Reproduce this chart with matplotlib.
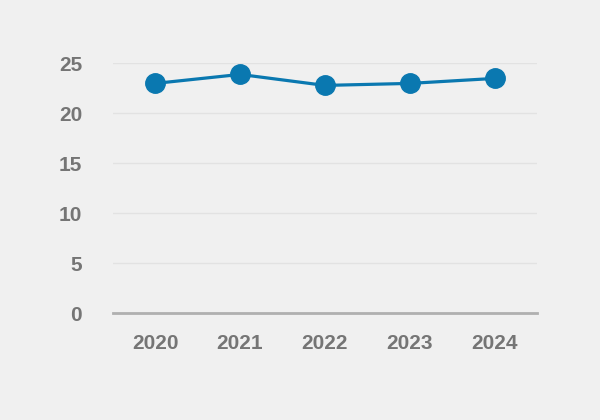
import matplotlib.pyplot as plt

plt.rcParams['font.family'] = ['Liberation Sans', 'DejaVu Sans']

# Data
years = ["2020", "2021", "2022", "2023", "2024"]
values = [23.0, 23.9, 22.8, 23.0, 23.5]
y_ticks = [0, 5, 10, 15, 20, 25]

bg = "#f0f0f0"
line_color = "#0a78b0"
text_color = "#757575"

fig = plt.figure(figsize=(6, 4.2), dpi=100, facecolor=bg)
ax = fig.add_axes([0.188, 0.254, 0.707, 0.595], facecolor=bg)

x = range(len(years))
ax.plot(x, values, color=line_color, linewidth=2.3, marker="o",
        markersize=14, clip_on=False, zorder=3)

ax.set_xlim(-0.5, len(years) - 0.5)
ax.set_ylim(0, 25)
ax.set_xticks(list(x))
ax.set_xticklabels(years)
ax.set_yticks(y_ticks)

ax.grid(axis="y", color="#e2e2e2", linewidth=1)
ax.set_axisbelow(True)
for side in ["top", "right", "left"]:
    ax.spines[side].set_visible(False)
ax.spines["bottom"].set_color("#b0b0b0")
ax.spines["bottom"].set_linewidth(2)
ax.spines["bottom"].set_zorder(2)

ax.tick_params(axis="both", length=0, labelsize=15, labelcolor=text_color)
ax.tick_params(axis="y", pad=22)
ax.tick_params(axis="x", pad=15)
for lbl in ax.get_xticklabels() + ax.get_yticklabels():
    lbl.set_fontweight("bold")

fig.savefig("out.png", dpi=100, facecolor=bg)
